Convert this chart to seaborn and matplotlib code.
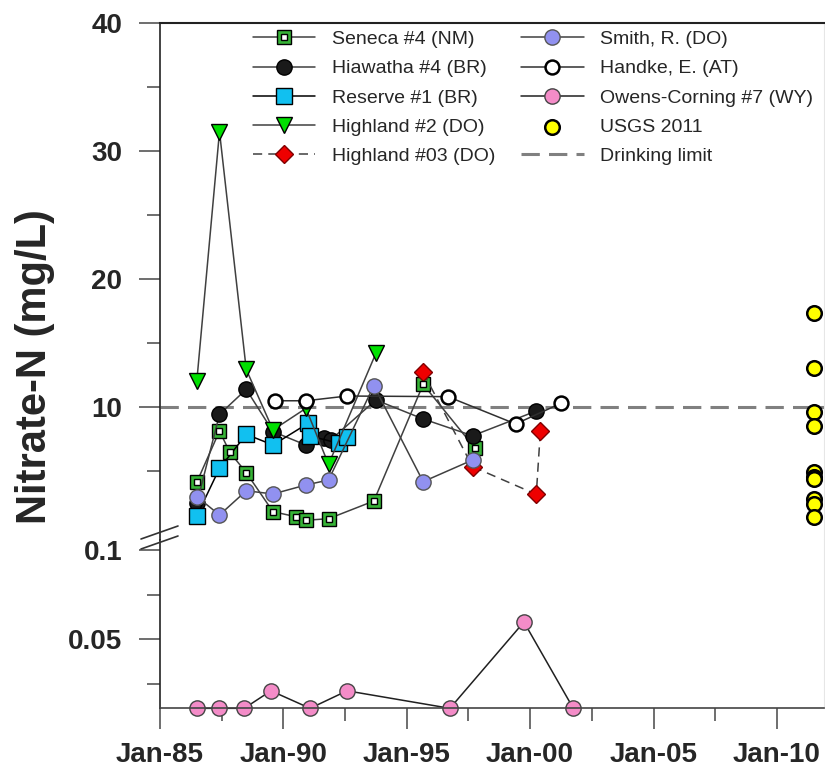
import numpy as np
import pandas as pd
import seaborn as sns
import matplotlib.pyplot as plt
from matplotlib.lines import Line2D
from matplotlib.legend_handler import HandlerTuple

# nitrate-N (mg/L) per well
seneca_dates = ['1986-07', '1987-06', '1987-11', '1988-07', '1989-08', '1990-07',
                '1990-12', '1991-11', '1993-09', '1995-09', '1997-10']
seneca_vals = [4.17, 8.15, 6.49, 4.90, 1.86, 1.47, 1.19, 1.31, 2.69, 11.79, 6.85]

hiawatha_dates = ['1986-07', '1987-06', '1988-07', '1989-08', '1990-12', '1991-09',
                  '1991-12', '1993-10', '1995-09', '1997-09', '2000-04']
hiawatha_vals = [2.51, 9.45, 11.40, 8.10, 7.06, 7.63, 7.45, 10.57, 9.09, 7.78, 9.71]

reserve_dates = ['1986-07', '1987-06', '1988-07', '1989-08', '1991-01', '1991-02',
                 '1992-04', '1992-08']
reserve_vals = [1.54, 5.24, 7.89, 7.06, 8.75, 7.76, 7.19, 7.66]

highland2_dates = ['1986-07', '1987-06', '1988-07', '1989-08', '1990-12', '1991-11', '1993-10']
highland2_vals = [12.09, 31.50, 12.95, 8.23, 9.92, 5.55, 14.21]

highland3_dates = ['1995-09', '1997-09', '2000-04', '2000-06']
highland3_vals = [12.73, 5.37, 3.21, 8.17]

smith_dates = ['1986-07', '1987-06', '1988-07', '1989-08', '1990-12', '1991-11',
               '1993-09', '1995-09', '1997-09']
smith_vals = [3.03, 1.60, 3.49, 3.24, 3.94, 4.33, 11.68, 4.20, 5.89]

handke_dates = ['1989-09', '1990-12', '1992-08', '1996-09', '1999-06', '2001-04']
handke_vals = [10.51, 10.51, 10.88, 10.83, 8.70, 10.31]

owens_dates = ['1986-07', '1987-06', '1988-06', '1989-07', '1991-02', '1992-08',
               '1996-10', '1999-10', '2001-10']
owens_vals = [0.0114, 0.0114, 0.0114, 0.0212, 0.0114, 0.0212, 0.0114, 0.0597, 0.0114]

usgs_dates = ['2011-07'] * 10
usgs_vals = [17.38, 13.04, 9.61, 8.54, 4.93, 4.59, 4.38, 2.85, 2.46, 1.42]

drinking_limit = 10

labels = ['Seneca #4 (NM)', 'Hiawatha #4 (BR)', 'Reserve #1 (BR)', 'Highland #2 (DO)',
          'Highland #03 (DO)', 'Smith, R. (DO)', 'Handke, E. (AT)',
          'Owens-Corning #7 (WY)', 'USGS 2011', 'Drinking limit']

sns.set_style('ticks')
plt.rcParams['font.family'] = ['Liberation Sans', 'DejaVu Sans']

fig = plt.figure(figsize=(8.25, 7.69), dpi=100)
ax_top = fig.add_axes([0.1939, 0.2978, 0.8048, 0.6727])
ax_bot = fig.add_axes([0.1939, 0.0789, 0.8048, 0.2189], sharex=ax_top)


def draw(ax, dates, vals, marker, face, edge='black', ms=10, line='#404040', mew=1.0):
    sns.lineplot(x=pd.to_datetime(dates), y=vals, ax=ax, estimator=None, sort=False,
                 color=line, linewidth=1.1, marker=marker, markersize=ms,
                 markerfacecolor=face, markeredgecolor=edge, markeredgewidth=mew,
                 clip_on=False)
    return ax.lines[-1]


h_seneca = draw(ax_top, seneca_dates, seneca_vals, 's', '#36b336', ms=10.5)
sns.lineplot(x=pd.to_datetime(seneca_dates), y=seneca_vals, ax=ax_top, estimator=None,
             linestyle='', marker='s', markersize=4, markerfacecolor='white',
             markeredgecolor='black', markeredgewidth=1.0, zorder=3)
h_seneca_in = ax_top.lines[-1]
h_hia = draw(ax_top, hiawatha_dates, hiawatha_vals, 'o', '#1a1a1a', ms=11)
h_res = draw(ax_top, reserve_dates, reserve_vals, 's', '#11c0f0', ms=11, line='black')
h_hl2 = draw(ax_top, highland2_dates, highland2_vals, 'v', '#00e000', ms=12)
h_hl3 = draw(ax_top, highland3_dates, highland3_vals, 'D', '#ee0000', edge='#800000', ms=9)
h_hl3.set_dashes((6, 4))
h_smith = draw(ax_top, smith_dates, smith_vals, 'o', '#9191f0', edge='#555555', ms=11)
h_handke = draw(ax_top, handke_dates, handke_vals, 'o', 'white', ms=10, line='#303030', mew=1.8)
h_owens = draw(ax_bot, owens_dates, owens_vals, 'o', '#f48cc8', edge='#444444', ms=11, line='#202020')

sns.scatterplot(x=pd.to_datetime(usgs_dates), y=usgs_vals, ax=ax_top, s=110,
                color='#ffff00', edgecolor='black', linewidth=1.8, zorder=5, clip_on=False)
h_usgs = ax_top.collections[-1]
h_limit = ax_top.axhline(drinking_limit, color='#808080', lw=2.2, dashes=(6, 3), zorder=1)

# axes limits (broken y axis)
xmin, xmax = pd.Timestamp('1985-01-01'), pd.Timestamp('2011-11-27')
ax_top.set_xlim(xmin, xmax)
ax_top.set_ylim(-0.35, 40)
ax_bot.set_ylim(0.0114, 0.1056)

tick_font = dict(fontsize=20, fontweight='bold')
ax_top.set_yticks([10, 20, 30, 40], ['10', '20', '30', '40'], **tick_font)
ax_top.set_yticks([5, 15, 25, 35], minor=True)
ax_bot.set_yticks([0.05, 0.1], ['0.05', '0.1'], **tick_font)
ax_bot.set_yticks([0.025, 0.075], minor=True)

major_x = pd.to_datetime(['1985-01-01', '1990-01-01', '1995-01-01', '2000-01-01',
                          '2005-01-01', '2010-01-01'])
minor_x = pd.to_datetime(['1987-07-02', '1992-07-02', '1997-07-02', '2002-07-02',
                          '2007-07-02'])
ax_bot.set_xticks(major_x, [d.strftime('%b-%y') for d in major_x], **tick_font)
ax_bot.set_xticks(minor_x, minor=True)
ax_bot.set_xlim(xmin, xmax)

for ax in (ax_top, ax_bot):
    ax.tick_params(axis='both', which='major', length=15, width=1.2, color='#555555', pad=9)
    ax.tick_params(axis='both', which='minor', length=9.5, width=1.2, color='#555555')
    ax.tick_params(axis='y', which='major', pad=12)
    ax.set_xlabel('')
    ax.set_ylabel('')
    ax.spines['right'].set_color('#e6e6e6')
    ax.spines['left'].set_color('#222222')
    ax.spines['left'].set_linewidth(1.2)

ax_top.tick_params(axis='x', which='both', bottom=False, labelbottom=False)
ax_top.spines['bottom'].set_visible(False)
ax_top.spines['top'].set_color('#222222')
ax_top.spines['top'].set_linewidth(1.5)
ax_bot.spines['top'].set_visible(False)
ax_bot.spines['bottom'].set_color('#444444')
ax_bot.spines['bottom'].set_linewidth(1.2)

# break marks on the y axis
W, H = 825, 769
for y0, y1 in [(549, 536), (539, 526)]:
    fig.add_artist(Line2D([141 / W, 178 / W], [1 - y0 / H, 1 - y1 / H],
                          transform=fig.transFigure, color='#333333', lw=1.2))

fig.text(35 / W, 1 - 367 / H, 'Nitrate-N (mg/L)', rotation=90, ha='center', va='center',
         fontsize=30, fontweight='bold')

handles = [(h_seneca, h_seneca_in), h_hia, h_res, h_hl2, h_hl3,
           h_smith, h_handke, h_owens, h_usgs, h_limit]
ax_top.legend(handles, labels, ncol=2, loc='upper left', bbox_to_anchor=(0.14, 0.985),
              frameon=False, fontsize=14, handlelength=3.2, handletextpad=0.85,
              columnspacing=1.35, labelspacing=0.6, borderpad=0, borderaxespad=0,
              handler_map={tuple: HandlerTuple(ndivide=1, pad=0)})

fig.savefig('out.png', dpi=100)
